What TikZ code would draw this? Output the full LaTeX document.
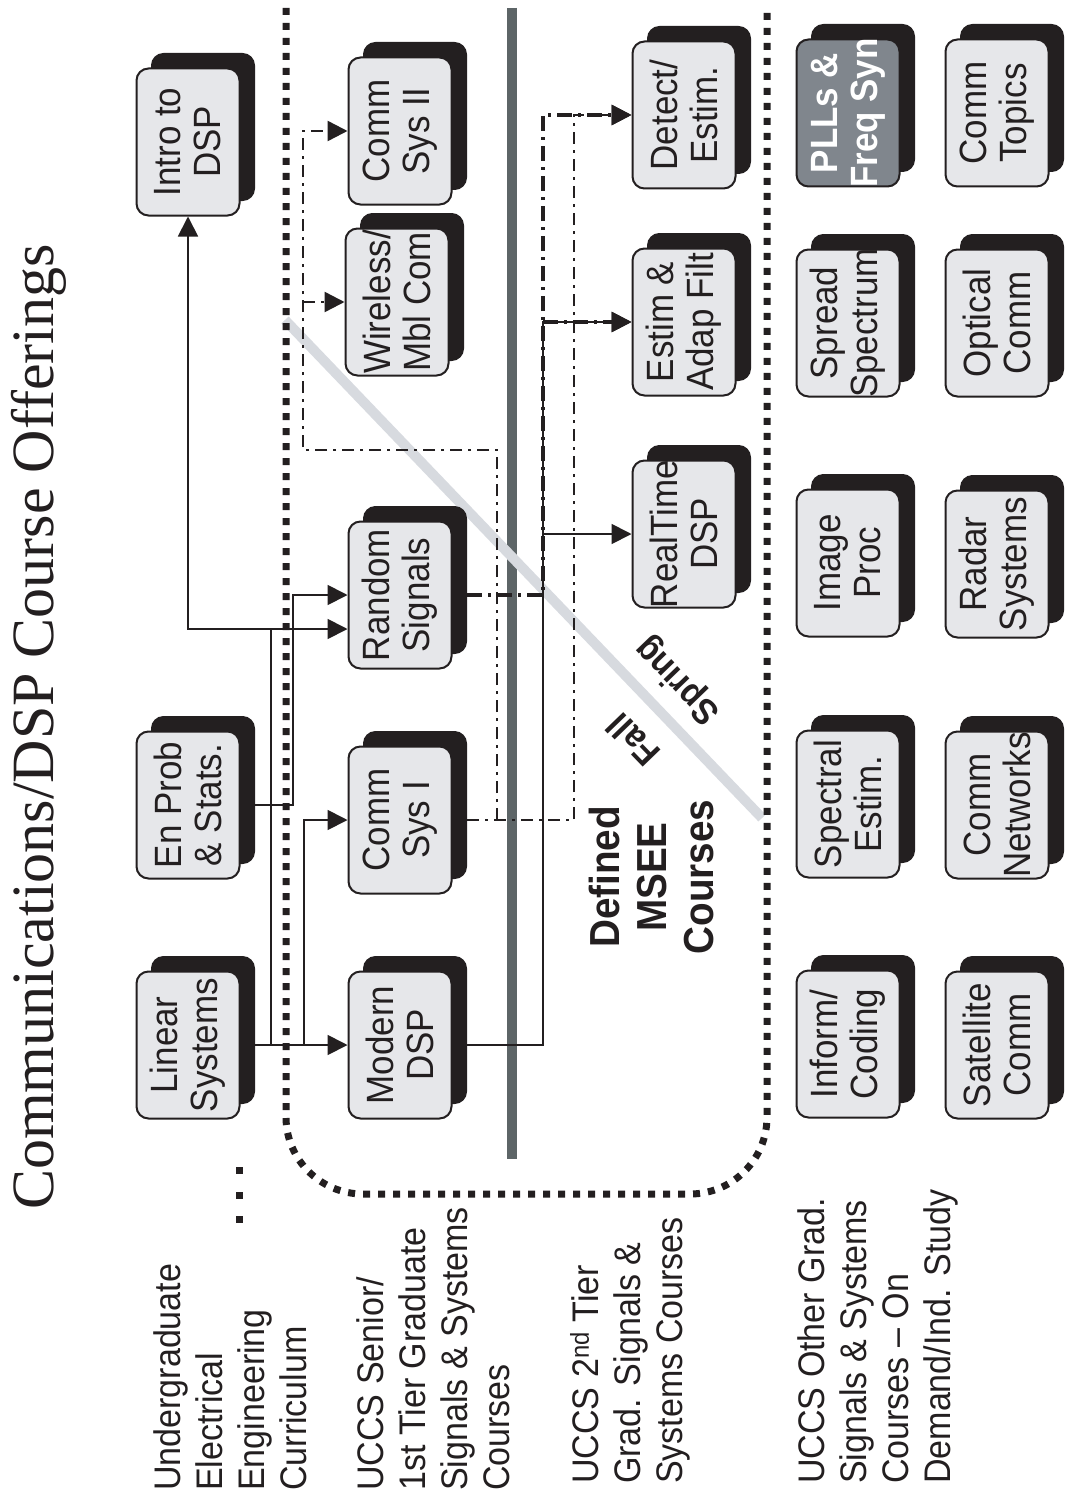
\documentclass[tikz,border=0pt]{standalone}
\usepackage{fontspec}
\setmainfont[FakeStretch=0.92]{Liberation Sans}
\newfontfamily\titlefont{Liberation Serif}
\usetikzlibrary{arrows.meta}

\definecolor{ink}{HTML}{231F20}
\definecolor{boxfill}{HTML}{E6E7EA}
\definecolor{pllfill}{HTML}{80868D}
\definecolor{barcol}{HTML}{5D6567}
\definecolor{diagcol}{HTML}{D7DADF}

\tikzset{
  backbox/.style={fill=ink, draw=ink, line width=1pt, rounded corners=12pt,
    minimum width=103pt, minimum height=147pt, inner sep=0pt},
  frontbox/.style={fill=boxfill, draw=ink, line width=2pt, rounded corners=12pt,
    minimum width=103pt, minimum height=147pt, inner sep=0pt},
  boxtext/.style={rotate=90, align=center, inner sep=0pt, text=ink,
    font=\fontsize{38}{40}\selectfont},
  conn/.style={draw=ink, line width=1.8pt},
  arrowhd/.style={-{Triangle[length=20pt,width=20pt]}},
  rsline/.style={draw=ink, line width=3.4pt, dash pattern=on 15pt off 6pt on 3pt off 6pt},
  csline/.style={draw=ink, line width=2.5pt, dash pattern=on 12pt off 6pt on 3pt off 6pt},
  lbl/.style={rotate=90, anchor=north west, align=left, inner sep=0pt, text=ink,
    font=\fontsize{37}{42}\selectfont},
  dotbound/.style={draw=ink, line width=7pt, dash pattern=on 7pt off 8pt},
}

% one course: shadow card, front card, rotated caption
\newcommand\course[4]{%
  \node[backbox] (#1-b) at ({#2+15},{#3-15}) {};
  \node[frontbox] (#1) at (#2,#3) {};
  \node[boxtext] (#1-t) at (#1) {#4};
}

\begin{document}
\begin{tikzpicture}[x=1pt,y=-1pt]
\useasboundingbox (0,0) rectangle (1075,1498);
\fill[white] (0,0) rectangle (1075,1498);

% title
\node[rotate=90, anchor=base, inner sep=0pt, text=ink,
  font={\titlefont\fontsize{60}{60}\selectfont}] (title) at (53,727)
  {Communications/DSP Course Offerings};

% semester divider and fall/spring split
\draw[barcol, line width=10pt] (512,8) -- (512,1159);
\draw[diagcol, line width=10pt] (285,320) -- (762,818);

% boundary of the defined MSEE courses
\draw[dotbound, rounded corners=77pt] (286,8) -- (286,1194) -- (767,1194) -- (767,12);

% ellipsis under the undergraduate column
\foreach \yy in {1170,1195,1219}
  \fill[ink] (235.5,\yy-3.5) rectangle (242.5,\yy+3.5);

% row labels
\node[lbl] (lab1) at (153,1491) {Undergraduate\\Electrical\\Engineering\\Curriculum};
\node[lbl] (lab2) at (356,1491) {UCCS Senior/\\1st Tier Graduate\\Signals \& Systems\\Courses};
\node[lbl] (lab3) at (570,1484) {UCCS 2\textsuperscript{nd} Tier\\Grad. Signals \&\\Systems Courses};
\node[lbl] (lab4) at (797,1484) {UCCS Other Grad.\\Signals \& Systems\\Courses -- On\\Demand/Ind. Study};

\node[rotate=90, anchor=north, align=center, inner sep=0pt, text=ink,
  font=\bfseries\fontsize{42}{47}\selectfont] (msee) at (589,877) {Defined\\MSEE\\Courses};
\node[rotate=134, text=ink, inner sep=0pt, font=\bfseries\fontsize{36}{36}\selectfont] (spring) at (678,680) {Spring};
\node[rotate=134, text=ink, inner sep=0pt, font=\bfseries\fontsize{36}{36}\selectfont] (fall) at (633,740) {Fall};

% undergraduate courses
\course{ids}{188}{142}{Intro to\\DSP}
\course{ep}{188}{805}{En Prob\\\& Stats.}
\course{ls}{188}{1045}{Linear\\Systems}

% first tier
\course{cs2}{400}{131}{Comm\\Sys II}
\course{wl}{397}{302}{Wireless/\\Mbl Com}
\course{rs}{400}{595}{Random\\Signals}
\course{cs1}{400}{820}{Comm\\Sys I}
\course{md}{400}{1045}{Modern\\DSP}

% second tier
\course{det}{684}{115}{Detect/\\Estim.}
\course{est}{684}{322}{Estim \&\\Adap Filt}
\course{rt}{684}{534}{RealTime\\DSP}

% other graduate courses
\node[backbox] (pll-b) at (863,98) {};
\node[frontbox, fill=pllfill] (pll) at (848,113) {};
\node[boxtext, text=white, font=\bfseries\fontsize{38}{40}\selectfont] (pll-t) at (pll) {PLLs \&\\Freq Syn};
\course{ss}{848}{323}{Spread\\Spectrum}
\course{ip}{848}{563}{Image\\Proc}
\course{se}{848}{804}{Spectral\\Estim.}
\course{ic}{848}{1044}{Inform/\\Coding}
\course{ct}{997}{113}{Comm\\Topics}
\course{oc}{997}{323}{Optical\\Comm}
\course{rad}{997}{564}{Radar\\Systems}
\course{cn}{997}{805}{Comm\\Networks}
\course{sat}{997}{1045}{Satellite\\Comm}

% junctions
\coordinate (ja) at (271,1045);
\coordinate (jb) at (304,1045);
\coordinate (jc) at (271,629);
\coordinate (jd) at (293,805);
\coordinate (je) at (543,1045);
\coordinate (jf) at (497,820);
\coordinate (jg) at (574,820);
\coordinate (jh) at (497,450);
\coordinate (ji) at (303,450);

% prerequisites (solid)
\draw[conn,arrowhd] (ls-b.east |- ls.center) -- (md.west);
\draw[conn,arrowhd] (ja) -- (jc) -- (rs.west |- jc);
\draw[conn,arrowhd] (jc) -| (ids.south);
\draw[conn,arrowhd] (jb) |- (cs1.west);
\draw[conn,arrowhd] (ep-b.east |- ep.center) -- (jd) |- (rs.west);
\draw[conn,arrowhd] (md-b.east |- md.center) -- (je) |- (rt.west);
\draw[conn,arrowhd] (je |- rt.west) |- (est.west);

% from Random Signals
\draw[rsline,arrowhd] (rs-b.east |- rs.center) -| (det.west -| je) -- (det.west);
\draw[rsline,arrowhd] (est.west -| je) -- (est.west);

% from Comm Sys I
\draw[csline,arrowhd] (cs1-b.east |- cs1.center) -- (jg) |- (det.west);
\draw[csline,arrowhd] (jf) -- (jh) -- (ji) |- (cs2.west);
\draw[csline,arrowhd] (ji |- wl.west) -- (wl.west);
\end{tikzpicture}
\end{document}
